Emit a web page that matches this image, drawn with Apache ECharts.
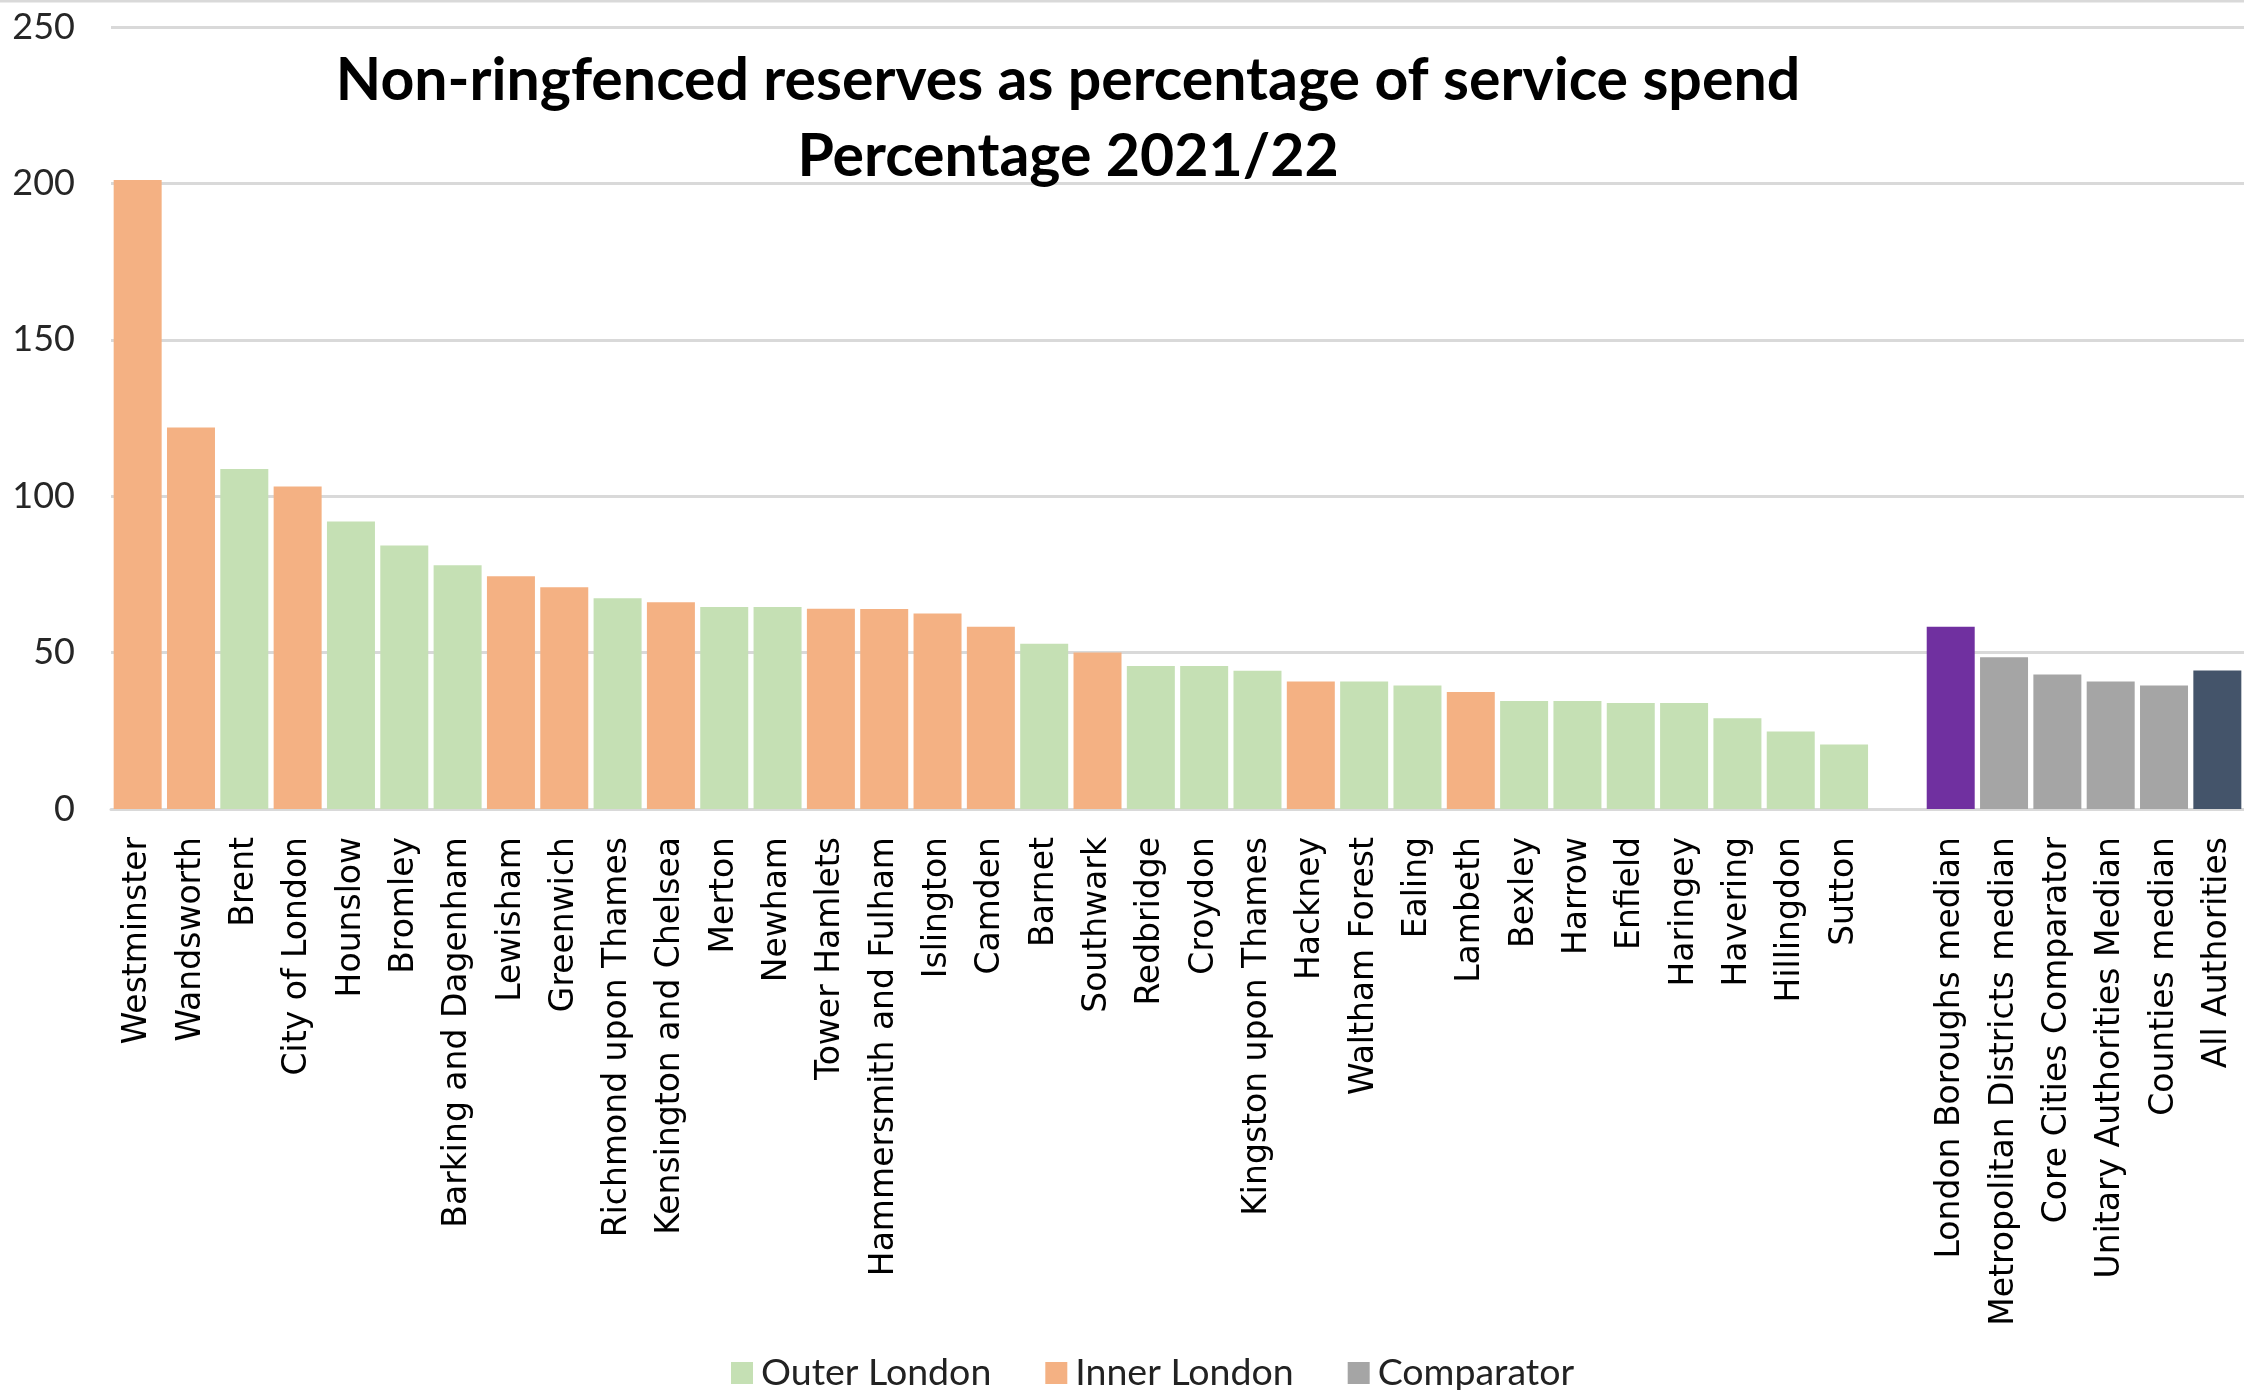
<!DOCTYPE html>
<html>
<head>
<meta charset="utf-8">
<title>Non-ringfenced reserves</title>
<script src="https://cdn.jsdelivr.net/npm/echarts@6/dist/echarts.min.js"></script>
<style>
  html, body { margin: 0; padding: 0; background: #fff; }
  #chart { width: 2244px; height: 1390px; }
</style>
</head>
<body>
<div id="chart"></div>
<script>
// categories, in chart order ('' is the empty slot before the comparators)
const categories = [
  "Westminster", "Wandsworth", "Brent", "City of London", "Hounslow", "Bromley",
  "Barking and Dagenham", "Lewisham", "Greenwich", "Richmond upon Thames",
  "Kensington and Chelsea", "Merton", "Newham", "Tower Hamlets",
  "Hammersmith and Fulham", "Islington", "Camden", "Barnet", "Southwark",
  "Redbridge", "Croydon", "Kingston upon Thames", "Hackney", "Waltham Forest",
  "Ealing", "Lambeth", "Bexley", "Harrow", "Enfield", "Haringey", "Havering",
  "Hillingdon", "Sutton", "",
  "London Boroughs median", "Metropolitan Districts median",
  "Core Cities Comparator", "Unitary Authorities Median", "Counties median",
  "All Authorities"
];

// percentage values
const values = [
  201.1, 122.0, 108.7, 103.1, 91.9, 84.2,
  77.9, 74.4, 70.9, 67.4,
  66.1, 64.6, 64.6, 64.0,
  63.9, 62.5, 58.3, 52.8, 50.0,
  45.7, 45.7, 44.2, 40.8, 40.8,
  39.5, 37.4, 34.5, 34.5, 33.9, 33.9, 29.0,
  24.8, 20.6, null,
  58.3, 48.5,
  43.0, 40.8, 39.5,
  44.3
];

// O = outer london, I = inner london, C = comparator, '' = gap
const groups = [
  "I", "I", "O", "I", "O", "O",
  "O", "I", "I", "O",
  "I", "O", "O", "I",
  "I", "I", "I", "O", "I",
  "O", "O", "O", "I", "O",
  "O", "I", "O", "O", "O", "O", "O",
  "O", "O", "",
  "C", "C", "C", "C", "C", "C"
];

// special colours for single comparator bars
const highlight = {
  "London Boroughs median": "#7030A0",
  "All Authorities": "#44546A"
};

const yTicks = [0, 50, 100, 150, 200, 250];

const seriesDefs = [
  { key: "O", name: "Outer London", color: "#C5E0B4" },
  { key: "I", name: "Inner London", color: "#F4B183" },
  { key: "C", name: "Comparator", color: "#A5A5A5" }
];

const chart = echarts.init(document.getElementById("chart"));

const series = seriesDefs.map((def) => ({
  name: def.name,
  type: "bar",
  stack: "all",
  barCategoryGap: "10%",
  itemStyle: { color: def.color },
  data: values.map((v, i) => {
    if (groups[i] !== def.key) return "-";
    const c = highlight[categories[i]];
    return c ? { value: v, itemStyle: { color: c } } : v;
  })
}));

const option = {
  backgroundColor: "#fff",
  animation: false,
  title: {
    text: "Non-ringfenced reserves as percentage of service spend\nPercentage 2021/22",
    left: 1063,
    top: 38,
    textAlign: "center",
    textStyle: {
      fontFamily: "Lato",
      fontWeight: "bold",
      fontSize: 59,
      lineHeight: 76,
      color: "#000"
    }
  },
  legend: {
    left: 726,
    top: 1349,
    icon: "rect",
    itemWidth: 22,
    itemHeight: 22,
    itemGap: 54,
    textStyle: { fontFamily: "Lato", fontSize: 37.5, color: "#222", padding: [0, 0, 0, 3] },
    data: seriesDefs.map((d) => d.name)
  },
  grid: {
    left: 111,
    right: -4,
    top: 27,
    bottom: 581,
    containLabel: false
  },
  xAxis: {
    type: "category",
    data: categories,
    axisLine: { lineStyle: { color: "#d9d9d9", width: 3 } },
    axisTick: { show: false },
    axisLabel: {
      interval: 0,
      rotate: 90,
      margin: 28,
      fontFamily: "DejaVu Sans",
      fontSize: 33,
      color: "#000"
    }
  },
  yAxis: {
    type: "value",
    min: yTicks[0],
    max: yTicks[yTicks.length - 1],
    interval: 50,
    axisLine: { show: false },
    axisTick: { show: false },
    splitLine: { lineStyle: { color: "#d9d9d9", width: 3 } },
    axisLabel: {
      margin: 36,
      fontFamily: "Lato",
      fontSize: 36,
      color: "#262626"
    }
  },
  graphic: [
    {
      type: "line",
      shape: { x1: 0, y1: 1, x2: 2244, y2: 1 },
      style: { stroke: "#d9d9d9", lineWidth: 3 }
    }
  ],
  series: series
};

chart.setOption(option);
</script>
</body>
</html>
